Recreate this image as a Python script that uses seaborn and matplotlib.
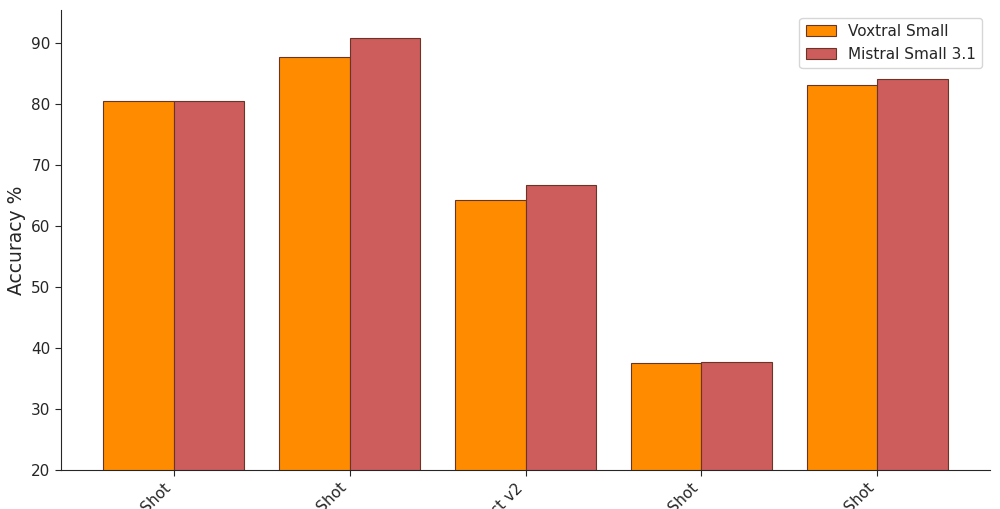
import matplotlib
matplotlib.use("Agg")
import matplotlib.pyplot as plt
import seaborn as sns
import pandas as pd

# benchmark names (only the tail of each is visible in the reference)
benchmarks = ["MMLU 5-Shot", "HumanEval 0-Shot", "Arena Hard Instruct v2",
              "GPQA 0-Shot", "GSM8K 5-Shot"]
voxtral_small = [80.5, 87.7, 64.3, 37.5, 83.2]
mistral_small = [80.6, 90.9, 66.7, 37.7, 84.1]
models = ["Voxtral Small", "Mistral Small 3.1"]

df = pd.DataFrame({
    "benchmark": benchmarks * 2,
    "model": [models[0]] * len(benchmarks) + [models[1]] * len(benchmarks),
    "score": voxtral_small + mistral_small,
})

sns.set_style("ticks")
plt.rcParams["font.family"] = ["DejaVu Sans"]

fig = plt.figure(figsize=(10, 5.09), dpi=100)
ax = fig.add_axes([0.061, 0.0766, 0.929, 0.9034])

sns.barplot(data=df, x="benchmark", y="score", hue="model",
            palette=["darkorange", "indianred"], edgecolor="#6a3426",
            linewidth=0.8, saturation=1, errorbar=None, ax=ax)

ax.set_ylim(20, max(mistral_small) * 1.05)
ax.set_xlim(-0.64, len(benchmarks) - 0.36)
ax.set_xlabel("")
ax.set_ylabel("Accuracy %", fontsize=13.5)
ax.tick_params(axis="both", labelsize=11, length=4)
plt.setp(ax.get_xticklabels(), rotation=45, ha="right")
sns.despine(ax=ax)
ax.legend(loc="upper right", fontsize=11)

fig.savefig("out.png", dpi=100)
